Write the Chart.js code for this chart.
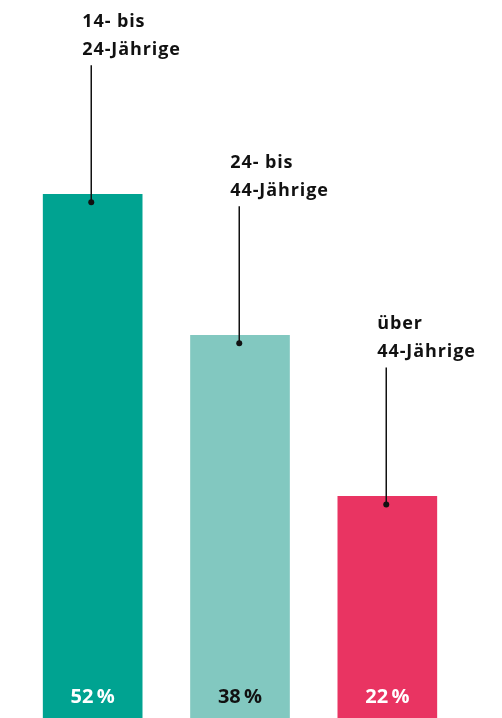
<!DOCTYPE html>
<html>
<head>
<meta charset="utf-8">
<script src="https://cdn.jsdelivr.net/npm/chart.js@4/dist/chart.umd.min.js"></script>
<style>
    html, body { margin: 0; padding: 0; background: #fff; }
    #wrap { width: 502px; height: 718px; position: relative; }
</style>
</head>
<body>
<div id="wrap"><canvas id="chart"></canvas></div>
<script>
// data
const categories = [["14- bis", "24-Jährige"], ["24- bis", "44-Jährige"], ["über", "44-Jährige"]];
const values = [52, 38, 22];
const valueLabels = ["52\u2009%", "38\u2009%", "22\u2009%"];

const barColors = ["#00a391", "#82c8c0", "#e93462"];
const valueColors = ["#ffffff", "#111111", "#ffffff"];

// leader lines, dots and the two-line labels above each bar
const labelPlugin = {
    id: "barLabels",
    afterDatasetsDraw(chart) {
        const ctx = chart.ctx;
        const meta = chart.getDatasetMeta(0);
        ctx.save();
        meta.data.forEach((bar, i) => {
            const lx = Math.round(bar.x - 1.5) + 0.25;
            const dotY = bar.y + 8;
            const topY = bar.y - 129;

            ctx.strokeStyle = "#111";
            ctx.lineWidth = 1.5;
            ctx.beginPath();
            ctx.moveTo(lx, dotY);
            ctx.lineTo(lx, topY);
            ctx.stroke();

            ctx.fillStyle = "#111";
            ctx.beginPath();
            ctx.arc(lx, dotY, 3, 0, Math.PI * 2);
            ctx.fill();

            ctx.font = "bold 18px 'Open Sans'";
            ctx.letterSpacing = "0.9px";
            ctx.textAlign = "left";
            ctx.textBaseline = "alphabetic";
            const lines = categories[i];
            ctx.fillText(lines[0], lx - 9, topY - 38);
            ctx.fillText(lines[1], lx - 9, topY - 10);

            // value at the foot of the bar
            ctx.font = "bold 20px 'Open Sans'";
            ctx.letterSpacing = "0px";
            ctx.textAlign = "center";
            ctx.fillStyle = valueColors[i];
            ctx.fillText(valueLabels[i], bar.x, chart.chartArea.bottom - 15);
        });
        ctx.restore();
    }
};

new Chart(document.getElementById("chart"), {
    type: "bar",
    data: {
        labels: categories,
        datasets: [{
            data: values,
            backgroundColor: barColors,
            barThickness: 99,
            borderWidth: 0
        }]
    },
    options: {
        responsive: true,
        maintainAspectRatio: false,
        animation: false,
        layout: { padding: { top: 11, bottom: 0, left: 19, right: 41 } },
        plugins: {
            legend: { display: false },
            tooltip: { enabled: false }
        },
        scales: {
            x: { display: false },
            y: { display: false, min: 0, max: 70.2 }
        }
    },
    plugins: [labelPlugin]
});
</script>
</body>
</html>
